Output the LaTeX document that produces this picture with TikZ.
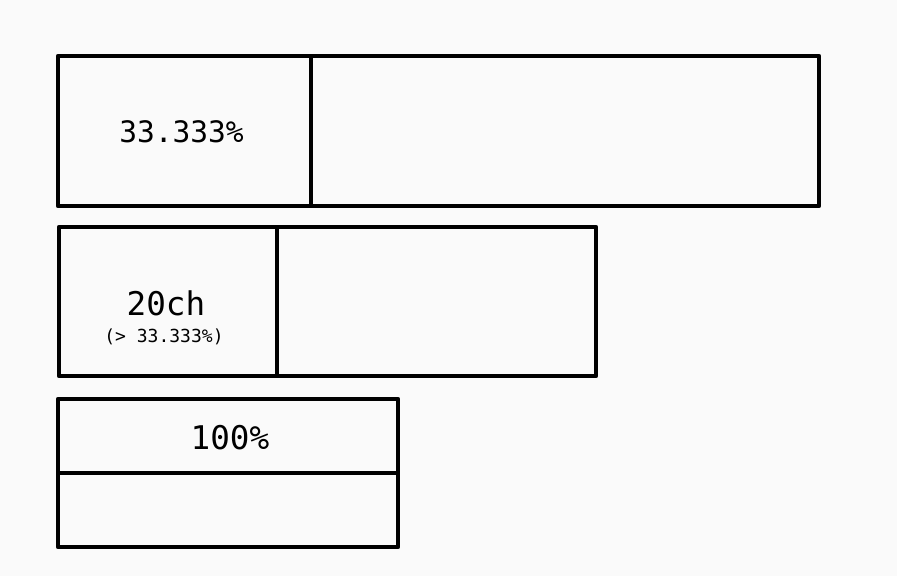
\documentclass[tikz,border=0pt]{standalone}
\usepackage{fontspec}
\setmonofont{DejaVu Sans Mono}
\definecolor{paper}{HTML}{FAFAFA}
\tikzset{
  cell/.style={draw=black, line width=3.3pt, line join=round},
  biglabel/.style={font=\ttfamily\fontsize{23.2pt}{26pt}\selectfont, anchor=base, inner sep=0pt},
  midlabel/.style={font=\ttfamily\fontsize{21pt}{24pt}\selectfont, anchor=base, inner sep=0pt},
  smalllabel/.style={font=\ttfamily\fontsize{12.8pt}{15pt}\selectfont, anchor=base, inner sep=0pt}
}
\begin{document}
\begin{tikzpicture}[x=0.025cm, y=-0.025cm]
\fill[paper] (0,0) rectangle (897,576);
\useasboundingbox (0,0) rectangle (897,576);
% 33.333% row
\draw[cell] (58,56) rectangle (311,206);
\draw[cell] (311,56) rectangle (819,206);
\node[midlabel] (pct) at (181.5,143) {33.333\%};
% 20ch row
\draw[cell] (59,227) rectangle (277,376);
\draw[cell] (277,227) rectangle (596,376);
\node[biglabel] (ch) at (166,316) {20ch};
\node[smalllabel] (chnote) at (164,343) {(> 33.333\%)};
% 100% row
\draw[cell] (58,399) rectangle (398,473);
\draw[cell] (58,473) rectangle (398,547);
\node[biglabel] (full) at (230,450) {100\%};
\end{tikzpicture}
\end{document}
